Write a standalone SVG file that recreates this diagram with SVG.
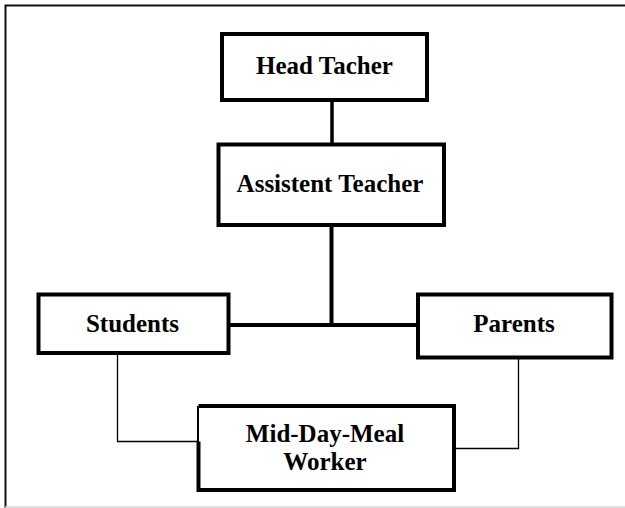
<svg xmlns="http://www.w3.org/2000/svg" width="625" height="508" viewBox="0 0 625 508">
<style>
.box{fill:#fff;stroke:#000;stroke-width:4}
.lbl{font-family:"Liberation Serif","Times New Roman",serif;font-weight:bold;font-size:25px;fill:#000;text-anchor:middle}
.thick{stroke:#000;stroke-width:4;fill:none}
.thin{stroke:#000;stroke-width:1.3;fill:none}
</style>
<rect width="625" height="508" fill="#fff"/>
<path d="M5.5 508 V5.5 H625" fill="none" stroke="#111" stroke-width="2"/>
<line x1="5" y1="507" x2="625" y2="507" stroke="#d4d4d4" stroke-width="1.5"/>
<g id="connectors">
<line class="thick" x1="332" y1="102" x2="332" y2="145" style="stroke-width:3.5"/>
<line class="thick" x1="331.5" y1="226" x2="331.5" y2="325"/>
<line class="thick" x1="229" y1="325" x2="418" y2="325"/>
<polyline class="thin" points="117.5,355 117.5,441.5 198,441.5"/>
<polyline class="thin" points="518.5,359 518.5,448.5 456,448.5"/>
</g>
<g id="head-tacher">
<rect class="box" x="222" y="34" width="205" height="66"/>
<text class="lbl" x="324.5" y="73.5">Head Tacher</text>
</g>
<g id="assistent-teacher">
<rect class="box" x="218.5" y="144.5" width="225.5" height="80.5"/>
<text class="lbl" x="330" y="191.5">Assistent Teacher</text>
</g>
<g id="students">
<rect class="box" x="38.5" y="294.5" width="190" height="58.5"/>
<text class="lbl" x="132.5" y="331.5">Students</text>
</g>
<g id="parents">
<rect class="box" x="418" y="294.5" width="193.5" height="63"/>
<text class="lbl" x="514" y="331.5">Parents</text>
</g>
<g id="mid-day-meal-worker">
<path d="M198.5 441.5 V490 H454 V406 H198.5" fill="#fff" stroke="#000" stroke-width="4"/>
<line x1="198" y1="406" x2="198" y2="442" stroke="#000" stroke-width="2"/>
<text class="lbl" x="325" y="441.5">Mid-Day-Meal</text>
<text class="lbl" x="325" y="470">Worker</text>
</g>
</svg>
